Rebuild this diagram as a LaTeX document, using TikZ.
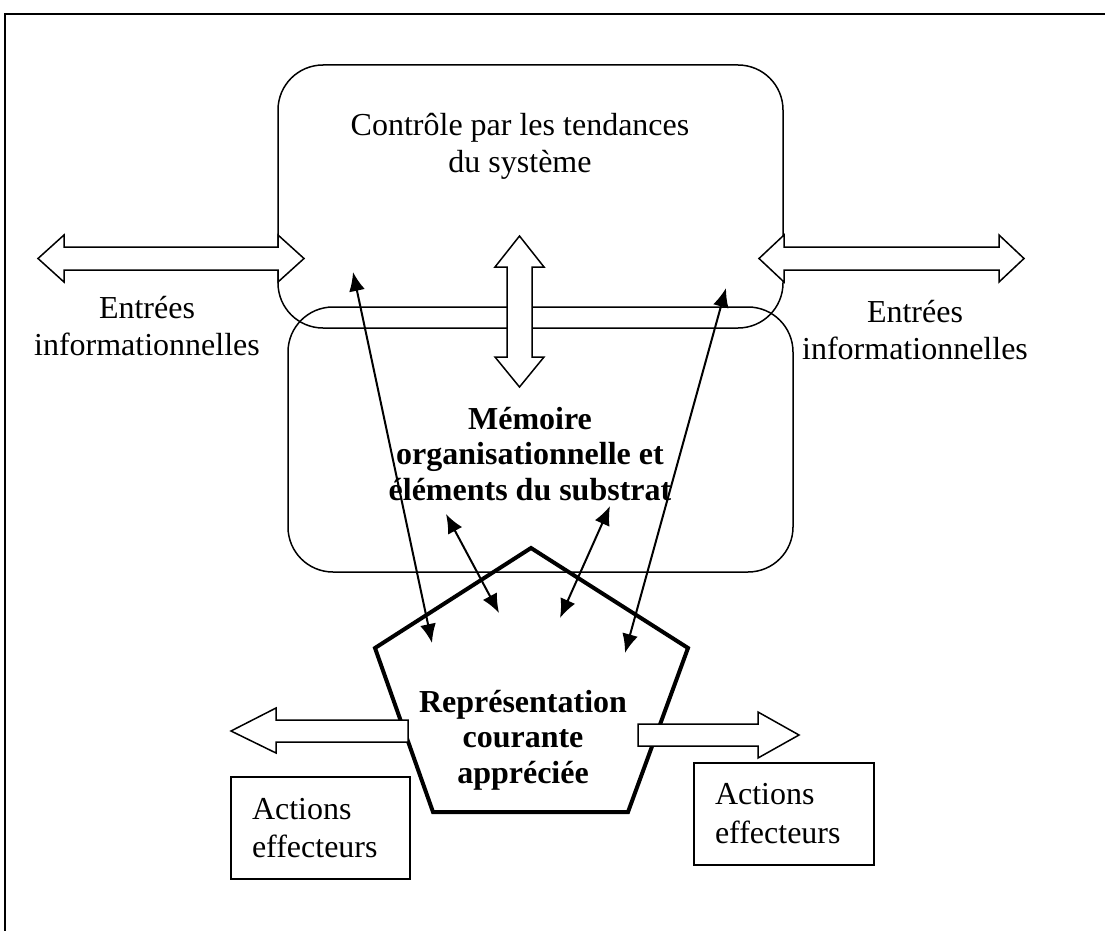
\documentclass[tikz,border=0pt]{standalone}
\usepackage{fontspec}
\setmainfont{Liberation Serif}
\usetikzlibrary{arrows.meta}
\begin{document}
\begin{tikzpicture}[x=1pt,y=-1pt,
  roundbox/.style={draw, line width=1.5pt, rounded corners=45pt, inner sep=0pt},
  fat/.style={draw, line width=1.5pt, fill=white, line join=miter},
  link/.style={line width=2pt, {Latex[length=19pt,width=16pt]}-{Latex[length=19pt,width=16pt]}},
  lbl/.style={font=\fontsize{32}{37}\selectfont, align=center, inner sep=0pt},
  blbl/.style={font=\fontsize{32}{35.5}\selectfont\bfseries, align=center, inner sep=0pt},
  effbox/.style={draw, line width=2pt, font=\fontsize{32}{38.5}\selectfont, align=left, inner sep=21pt},
  ]
\useasboundingbox (0,0) rectangle (1105,931);
% frame
\draw[line width=2pt] (5,931) -- (5,14) -- (1105,14);

% rounded boxes
\node[roundbox, minimum width=505pt, minimum height=263pt] (ctrl) at (530.5,196.5) {};
\node[roundbox, minimum width=505pt, minimum height=265pt] (mem) at (540.5,439.5) {};

% fat double arrows
\draw[fat] (64,247) -- (278,247) -- (278,235) -- (304,258.5) -- (278,282) -- (278,270)
  -- (64,270) -- (64,282) -- (38,258.5) -- (64,235) -- cycle;
\draw[fat] (784,247) -- (999,247) -- (999,235) -- (1024,258.5) -- (999,282) -- (999,270)
  -- (784,270) -- (784,282) -- (759,258.5) -- (784,235) -- cycle;
\draw[fat] (507,267) -- (495,267) -- (519.5,236) -- (544,267) -- (532,267) -- (532,357)
  -- (544,357) -- (519.5,387) -- (495,357) -- (507,357) -- cycle;

% pentagon
\coordinate (p1) at (531,548);
\coordinate (p2) at (688,648);
\coordinate (p3) at (628,812);
\coordinate (p4) at (433,812);
\coordinate (p5) at (375,648);
\draw[line width=4pt, line join=miter] (p1) -- (p2) -- (p3) -- (p4) -- (p5) -- cycle;

% effector arrows
\draw[fat] (408,720) -- (276,720) -- (276,708) -- (231,731) -- (276,753) -- (276,742) -- (408,742) -- cycle;
\draw[fat] (638,724) -- (758,724) -- (758,712) -- (799,735) -- (758,758) -- (758,746) -- (638,746) -- cycle;

% texts
\node[lbl] (ctrltxt) at (520,146) {Contr\^ole par les tendances\\du syst\`eme};
\node[blbl] (memtxt) at (530,454) {M\'emoire\\organisationnelle et\\\'el\'ements du substrat};
\node[blbl] (reptxt) at (523,740) {Repr\'esentation\\courante\\appr\'eci\'ee};
\node[lbl] (inL) at (147,326) {Entr\'ees\\informationnelles};
\node[lbl] (inR) at (915,330) {Entr\'ees\\informationnelles};

\node[effbox, text width=137pt, minimum width=179pt, minimum height=94pt] (actL) at (320.5,828) {Actions\\effecteurs};
\node[effbox, text width=138pt, minimum width=180pt, minimum height=101pt] (actR) at (784,813.5) {Actions\\effecteurs};

% thin double-headed arrows
\coordinate (a1) at (353,272);
\coordinate (a2) at (432,643);
\coordinate (a3) at (726,288);
\coordinate (a4) at (625,653);
\coordinate (a5) at (446,514);
\coordinate (a6) at (499,613);
\coordinate (a7) at (610,506);
\coordinate (a8) at (560,618);
\draw[link] (a1) -- (a2);
\draw[link] (a3) -- (a4);
\draw[link] (a5) -- (a6);
\draw[link] (a7) -- (a8);
\end{tikzpicture}
\end{document}
